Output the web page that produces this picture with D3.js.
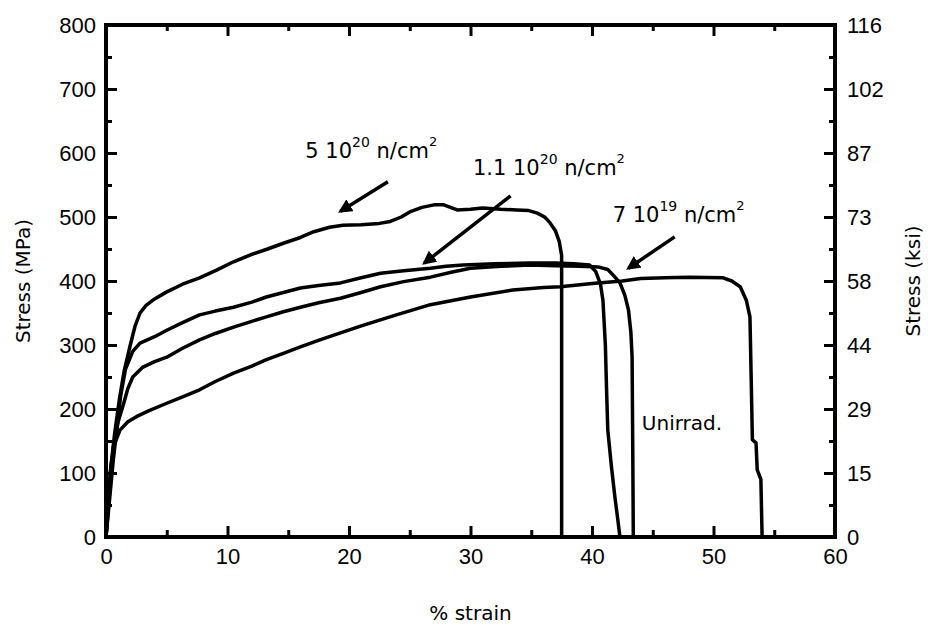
<!DOCTYPE html>
<html>
<head>
<meta charset="utf-8">
<script src="https://cdn.jsdelivr.net/npm/d3@7"></script>
<style>
  body { margin: 0; background: #fff; }
  svg { display: block; font-family: "Comic Sans MS", "DejaVu Sans", sans-serif; }
  .axis path, .axis line { stroke: #000; }
  .axis text { fill: #000; font-size: 22px; }
</style>
</head>
<body>
<div id="chart"></div>
<script>
// DATA (strain in %, stress in MPa)
const strain5e20 = [0, 0.2, 0.4, 0.7, 1.1, 1.5, 2.0, 2.4, 2.8, 3.3, 4.0, 5.0, 6.3, 7.7, 9.1, 10.5, 11.9, 13.3, 14.6, 16.0, 17.1, 18.4, 19.5, 21.0, 22.5, 23.4, 24.3, 25.0, 26.0, 27.0, 27.8, 28.9, 30.0, 31.0, 32.5, 33.8, 34.8, 35.5, 36.1, 36.5, 37.0, 37.3, 37.5, 37.5];
const stress5e20 = [0, 60, 110, 160, 215, 260, 300, 330, 350, 362, 372, 383, 395, 405, 417, 430, 441, 450, 459, 468, 477, 484, 487, 488, 490, 493, 500, 508, 515, 519, 519, 511, 512, 514, 512, 511, 510, 506, 500, 492, 478, 462, 440, 0];

const strain11e20 = [0, 0.3, 0.6, 0.9, 1.2, 1.6, 2.2, 2.8, 4.0, 5.0, 6.3, 7.7, 9.0, 10.5, 12.0, 13.2, 14.6, 16.0, 17.5, 19.3, 21.0, 22.6, 24.5, 26.7, 28.0, 29.4, 32.0, 34.9, 37.0, 38.5, 39.8, 40.3, 40.7, 40.9, 41.1, 41.2, 41.3, 41.6, 41.9, 42.1, 42.3];
const stress11e20 = [0, 60, 120, 170, 220, 262, 290, 303, 313, 323, 335, 347, 353, 359, 367, 375, 382, 389, 393, 397, 405, 412, 416, 420, 423, 425, 427, 428, 428, 427, 425, 415, 395, 370, 300, 230, 167, 110, 60, 31, 0];

const strain7e19 = [0, 0.3, 0.6, 1.0, 1.4, 1.8, 2.2, 3.0, 4.0, 5.0, 6.3, 7.7, 9.0, 10.5, 12.0, 13.2, 14.6, 16.0, 17.5, 19.3, 21.0, 22.6, 24.5, 26.7, 28.5, 30.0, 32.5, 34.9, 37.0, 39.0, 40.5, 41.3, 41.8, 42.3, 42.7, 43.0, 43.2, 43.3, 43.35, 43.4];
const stress7e19 = [0, 70, 140, 180, 205, 232, 250, 265, 274, 281, 295, 308, 318, 328, 337, 344, 352, 359, 366, 373, 382, 391, 399, 406, 414, 420, 423, 425, 424, 423, 422, 418, 408, 397, 378, 355, 320, 281, 150, 0];

const strainUnirr = [0, 0.2, 0.4, 0.7, 1.15, 1.8, 2.5, 3.5, 5.0, 6.3, 7.7, 9.0, 10.5, 12.0, 13.2, 14.6, 16.0, 17.6, 19.3, 21.2, 23.9, 26.7, 30.0, 33.5, 36.0, 37.4, 40.0, 42.5, 44.0, 46.0, 48.0, 50.8, 51.5, 52.2, 52.7, 53.0, 53.1, 53.2, 53.5, 53.6, 53.9, 54.0];
const stressUnirr = [0, 60, 110, 145, 167, 180, 188, 197, 209, 219, 230, 243, 256, 267, 277, 287, 297, 308, 319, 331, 347, 363, 375, 386, 390, 391, 396, 400, 404, 405, 406, 405, 400, 391, 370, 344, 250, 152, 147, 105, 90, 0];

const xTicks = [0, 10, 20, 30, 40, 50, 60];
const mpaTicks = [0, 100, 200, 300, 400, 500, 600, 700, 800];
const ksiLabels = ["0", "15", "29", "44", "58", "73", "87", "102", "116"];

// annotation anchors in data units
const fluenceLabels = [
  {base: "5 10", exp: "20", x: 16.4, y: 592, ax1: 23.2, ay1: 555, ax2: 19.3, ay2: 509},
  {base: "1.1 10", exp: "20", x: 30.2, y: 566, ax1: 33.3, ay1: 533, ax2: 26.2, ay2: 428},
  {base: "7 10", exp: "19", x: 41.7, y: 492, ax1: 46.8, ay1: 469, ax2: 43.0, ay2: 420}
];

// SIZE
const width = 928, height = 630;
const margin = {top: 25, right: 93, bottom: 93, left: 106};

const svg = d3.select("#chart").append("svg")
  .attr("width", width)
  .attr("height", height)
  .style("background-color", "#fff");

// SCALES
const xScale = d3.scaleLinear().domain([0, 60]).range([margin.left, width - margin.right]);
const yScale = d3.scaleLinear().domain([0, 800]).range([height - margin.bottom, margin.top]);

// MINOR TICKS (inward)
const minorX = d3.range(5, 60, 10);
const minorY = d3.range(50, 800, 100);

svg.append("g").attr("class", "axis")
  .attr("transform", `translate(0, ${height - margin.bottom})`)
  .call(d3.axisBottom(xScale).tickValues(minorX).tickSize(-7).tickFormat(""))
  .call(g => g.select(".domain").remove())
  .selectAll("line").attr("stroke-width", 3);
svg.append("g").attr("class", "axis")
  .attr("transform", `translate(0, ${margin.top})`)
  .call(d3.axisTop(xScale).tickValues(minorX).tickSize(-6).tickFormat(""))
  .call(g => g.select(".domain").remove())
  .selectAll("line").attr("stroke-width", 3);
svg.append("g").attr("class", "axis")
  .attr("transform", `translate(${margin.left}, 0)`)
  .call(d3.axisLeft(yScale).tickValues(minorY).tickSize(-6).tickFormat(""))
  .call(g => g.select(".domain").remove())
  .selectAll("line").attr("stroke-width", 3);
svg.append("g").attr("class", "axis")
  .attr("transform", `translate(${width - margin.right}, 0)`)
  .call(d3.axisRight(yScale).tickValues(minorY).tickSize(-6).tickFormat(""))
  .call(g => g.select(".domain").remove())
  .selectAll("line").attr("stroke-width", 3);

// MAJOR AXES
const xAxisGroup = svg.append("g").attr("class", "axis")
  .attr("transform", `translate(0, ${height - margin.bottom})`)
  .call(d3.axisBottom(xScale).tickValues(xTicks).tickSize(-11).tickPadding(11).tickSizeOuter(0));
xAxisGroup.select(".domain").remove();
xAxisGroup.selectAll("line").attr("stroke-width", 3);

const topAxisGroup = svg.append("g").attr("class", "axis")
  .attr("transform", `translate(0, ${margin.top})`)
  .call(d3.axisTop(xScale).tickValues(xTicks).tickSize(-11).tickFormat(""));
topAxisGroup.select(".domain").remove();
topAxisGroup.selectAll("line").attr("stroke-width", 3);

const yAxisGroup = svg.append("g").attr("class", "axis")
  .attr("transform", `translate(${margin.left}, 0)`)
  .call(d3.axisLeft(yScale).tickValues(mpaTicks).tickSize(-11).tickPadding(10));
yAxisGroup.select(".domain").remove();
yAxisGroup.selectAll("line").attr("stroke-width", 3);

const y2AxisGroup = svg.append("g").attr("class", "axis")
  .attr("transform", `translate(${width - margin.right}, 0)`)
  .call(d3.axisRight(yScale).tickValues(mpaTicks).tickSize(-11).tickPadding(12)
    .tickFormat((d, i) => ksiLabels[i]));
y2AxisGroup.select(".domain").remove();
y2AxisGroup.selectAll("line").attr("stroke-width", 3);

// FRAME
svg.append("rect")
  .attr("x", xScale(0)).attr("y", yScale(800))
  .attr("width", xScale(60) - xScale(0))
  .attr("height", yScale(0) - yScale(800))
  .attr("fill", "none").attr("stroke", "#000").attr("stroke-width", 4);

// LINES
const line = d3.line()
  .x(d => xScale(d[0]))
  .y(d => yScale(d[1]));

const curves = [
  [strain5e20, stress5e20],
  [strain11e20, stress11e20],
  [strain7e19, stress7e19],
  [strainUnirr, stressUnirr]
];

svg.selectAll("path.curve")
  .data(curves.map(c => d3.zip(c[0], c[1])))
  .join("path")
  .attr("class", "curve")
  .attr("fill", "none")
  .attr("stroke", "#000")
  .attr("stroke-width", 3.5)
  .attr("stroke-linejoin", "round")
  .attr("d", line);

// ARROWS
svg.append("defs").append("marker")
  .attr("id", "head")
  .attr("viewBox", "0 0 10 10")
  .attr("refX", 8).attr("refY", 5)
  .attr("markerWidth", 4).attr("markerHeight", 4)
  .attr("orient", "auto")
  .append("path").attr("d", "M0,0 L10,5 L0,10 Z").attr("fill", "#000");

svg.selectAll("line.arrow")
  .data(fluenceLabels)
  .join("line")
  .attr("class", "arrow")
  .attr("x1", d => xScale(d.ax1)).attr("y1", d => yScale(d.ay1))
  .attr("x2", d => xScale(d.ax2)).attr("y2", d => yScale(d.ay2))
  .attr("stroke", "#000").attr("stroke-width", 3.5)
  .attr("marker-end", "url(#head)");

// LABELS
const lab = svg.selectAll("text.fluence")
  .data(fluenceLabels)
  .join("text")
  .attr("class", "fluence")
  .attr("x", d => xScale(d.x))
  .attr("y", d => yScale(d.y))
  .style("font-size", "21px");
lab.append("tspan").text(d => d.base);
lab.append("tspan").attr("dy", -11).style("font-size", "14px").text(d => d.exp);
lab.append("tspan").attr("dy", 11).text(" n/cm");
lab.append("tspan").attr("dy", -12).style("font-size", "13px").text("2");

svg.append("text")
  .attr("x", xScale(44.1))
  .attr("y", yScale(167))
  .style("font-size", "20px")
  .text("Unirrad.");

// AXIS TITLES
svg.append("text")
  .attr("x", (margin.left + width - margin.right) / 2)
  .attr("y", 620)
  .attr("text-anchor", "middle")
  .style("font-size", "20px")
  .text("% strain");

svg.append("text")
  .attr("transform", `translate(30, ${(margin.top + height - margin.bottom) / 2}) rotate(-90)`)
  .attr("text-anchor", "middle")
  .style("font-size", "20px")
  .text("Stress (MPa)");

svg.append("text")
  .attr("transform", `translate(920, ${(margin.top + height - margin.bottom) / 2}) rotate(-90)`)
  .attr("text-anchor", "middle")
  .style("font-size", "20px")
  .text("Stress (ksi)");
</script>
</body>
</html>
